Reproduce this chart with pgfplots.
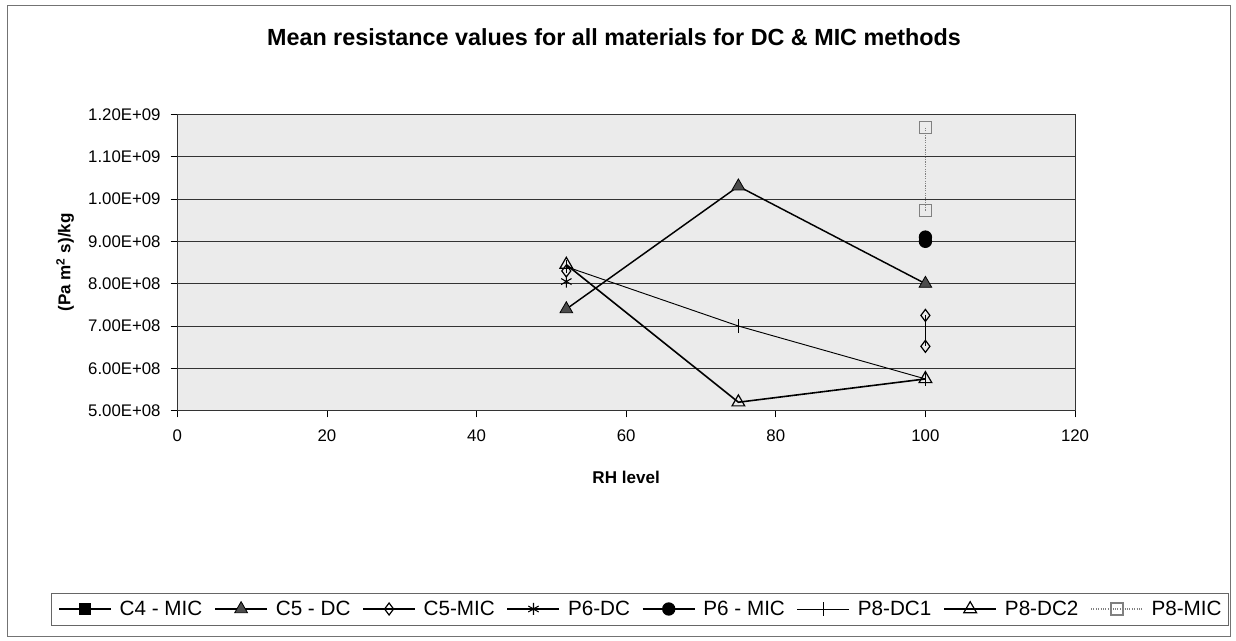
\documentclass[border=0pt]{standalone}
\usepackage{fontspec}
\setmainfont{Liberation Sans}
\usepackage{pgfplots}
\pgfplotsset{compat=1.18}
\begin{document}
\begin{tikzpicture}[x=0.75pt,y=0.75pt]
\path (0,0) rectangle (1236,641);
\draw[black!55, line width=0.6pt] (7,5) rectangle (1230,636);
\node[font=\bfseries\fontsize{17.5}{20}\selectfont] at (614,604) {Mean resistance values for all materials for DC \& MIC methods};
\begin{axis}[
  at={(132.975pt,172.725pt)}, anchor=south west, scale only axis,
  width=673.3pt, height=222.3pt,
  xmin=0, xmax=120, ymin=5e8, ymax=1.2e9,
  xtick={0,20,40,60,80,100,120},
  ytick={5e8,6e8,7e8,8e8,9e8,1e9,1.1e9,1.2e9},
  yticklabels={5.00E+08,6.00E+08,7.00E+08,8.00E+08,9.00E+08,1.00E+09,1.10E+09,1.20E+09},
  scaled y ticks=false,
  /pgf/number format/assume math mode=true,
  ymajorgrids, grid style={black!80, line width=0.6pt},
  axis background/.style={fill=black!8},
  axis line style={black!80, line width=0.7pt},
  tick style={black, line width=0.6pt},
  tick align=outside, major tick length=5pt,
  xtick pos=left, ytick pos=left,
  ticklabel style={font=\fontsize{12.6}{14}\selectfont},
  xticklabel style={yshift=-6pt},
  yticklabel style={xshift=-4pt},
  xlabel={RH level},
  xlabel style={font=\bfseries\fontsize{12.8}{14}\selectfont, at={(axis description cs:0.5,-0.224)}, anchor=center},
  ylabel={(Pa m\textsuperscript{2} s)/kg},
  ylabel style={font=\bfseries\fontsize{12.8}{14}\selectfont, at={(axis description cs:-0.125,0.5)}, anchor=center},
  unbounded coords=jump,
  legend columns=8,
  legend style={at={(axis description cs:0.5154,-0.669)}, anchor=center, draw=black!60, fill=white,
    font=\fontsize{15.5}{17}\selectfont, inner xsep=5pt, inner ysep=4pt,
    nodes={inner xsep=0pt, inner ysep=2pt},
    /tikz/every odd column/.append style={column sep=6pt},
    /tikz/every even column/.append style={column sep=9pt}},
  legend image code/.code={\draw[mark repeat=2,mark phase=2,#1] plot coordinates {(0pt,0pt) (19.5pt,0pt) (39pt,0pt)};},
]
\addlegendimage{black, line width=1pt, mark=square*, mark size=4pt, mark options={solid, fill=black}}
\addlegendentry{C4 - MIC}
\addplot[black, line width=1.1pt, mark=triangle*, mark size=5.5pt, mark options={solid, fill=black!70, line width=0.6pt}]
  coordinates {(52,7.4e8) (75,1.03e9) (100,8.0e8)};
\addlegendentry{C5 - DC}
\addplot[black, line width=0.9pt, mark=diamond, mark size=4.5pt, mark options={solid, fill=white, line width=0.9pt}]
  coordinates {(52,8.3e8) (nan,nan) (100,7.25e8) (100,6.52e8)};
\addlegendentry{C5-MIC}
\addplot[black, line width=0.9pt, mark=asterisk, mark size=4.5pt, mark options={solid, line width=0.8pt}]
  coordinates {(52,8.05e8)};
\addlegendentry{P6-DC}
\addplot[black, line width=1pt, mark=*, mark size=4.5pt, mark options={solid, fill=black}]
  coordinates {(100,9.1e8) (100,9.0e8)};
\addlegendentry{P6 - MIC}
\addplot[black, line width=0.7pt, mark=|, mark size=5pt, mark options={solid, line width=0.8pt}]
  coordinates {(52,8.4e8) (75,7.0e8) (100,5.75e8)};
\addlegendentry{P8-DC1}
\addplot[black, line width=1.2pt, mark=triangle, mark size=5.5pt, mark options={solid, fill=white, line width=0.9pt}]
  coordinates {(52,8.45e8) (75,5.2e8) (100,5.75e8)};
\addlegendentry{P8-DC2}
\addplot[black!50, line width=0.8pt, densely dotted, mark=square, mark size=4.5pt, mark options={solid, fill=white, line width=0.8pt}]
  coordinates {(100,1.168e9) (100,9.72e8)};
\addlegendentry{P8-MIC}
\end{axis}
\end{tikzpicture}
\end{document}
